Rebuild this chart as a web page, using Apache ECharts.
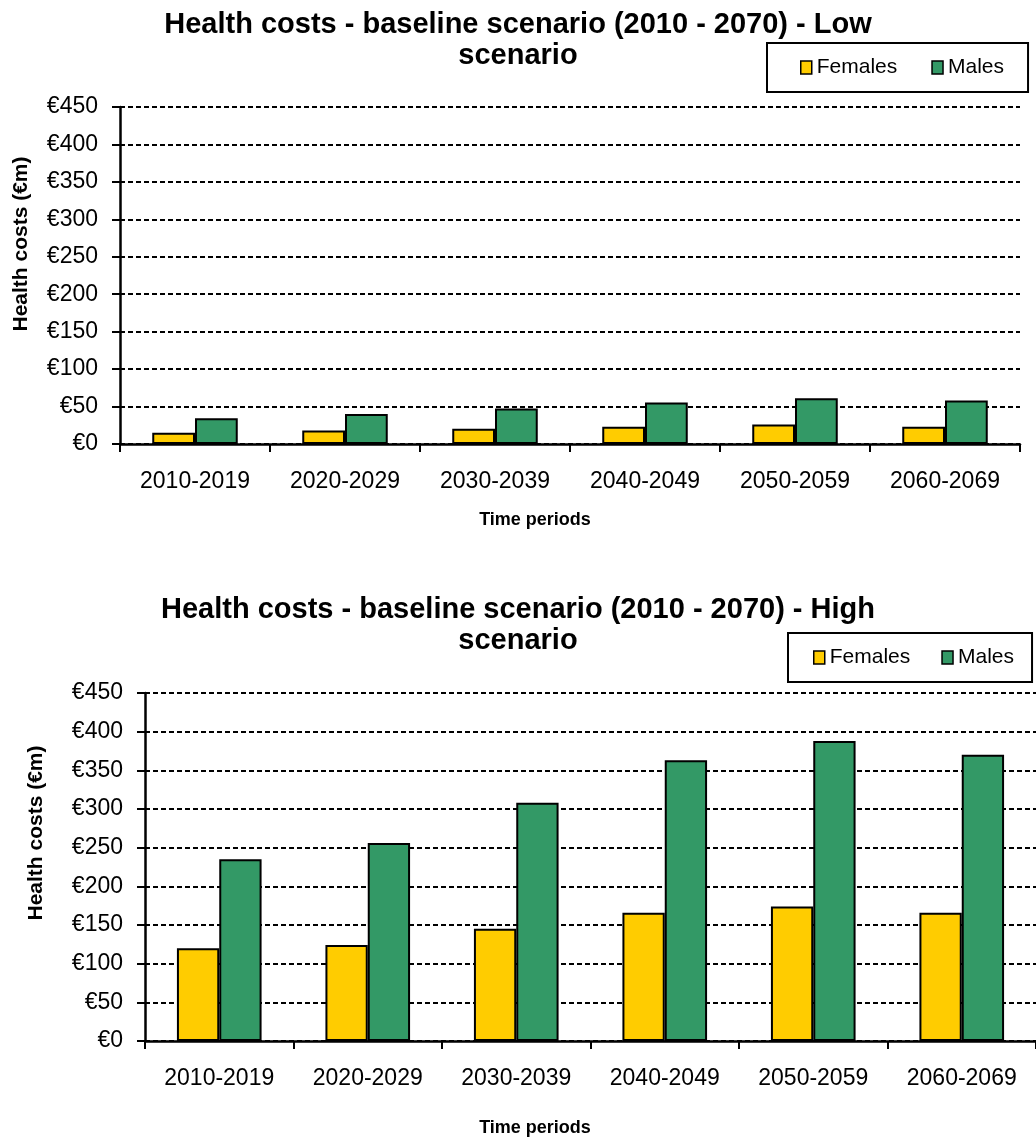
<!doctype html>
<html lang="en">
<head>
    <meta charset="UTF-8">
    <title>Health costs - baseline scenario</title>
    <script src="https://cdn.jsdelivr.net/npm/echarts@6/dist/echarts.min.js"></script>
    <style>
        body { margin: 0; background: #fff; }
        #chart { width: 1036px; height: 1140px; }
    </style>
</head>
<body>
    <div id="chart"></div>
<script>
    // data
    var periods = ['2010-2019', '2020-2029', '2030-2039', '2040-2049', '2050-2059', '2060-2069'];
    var lowFemales = [15, 18, 20.5, 23, 26, 23];
    var lowMales = [34.5, 40, 47.5, 55.5, 61, 58];
    var highFemales = [120, 124, 145, 166, 174, 166];
    var highMales = [235, 256, 308, 363, 388, 370];

    var FONT = "'Liberation Sans', Arial, sans-serif";
    var chart = echarts.init(document.getElementById('chart'));

    function xAxisFor(idx) {
        return {
            type: 'category',
            gridIndex: idx,
            data: periods,
            axisLine: { lineStyle: { color: '#000', width: 2.5 } },
            axisTick: { show: true, length: 8, lineStyle: { color: '#000', width: 2 } },
            axisLabel: { color: '#000', fontSize: 23, fontFamily: FONT, margin: 26 }
        };
    }
    function yAxisFor(idx) {
        return {
            type: 'value',
            gridIndex: idx,
            min: 0,
            max: 450,
            interval: 50,
            axisLine: { show: true, lineStyle: { color: '#000', width: 2.5 } },
            axisTick: { show: true, length: 8, lineStyle: { color: '#000', width: 2 } },
            axisLabel: {
                color: '#000', fontSize: 23, fontFamily: FONT, margin: 22,
                formatter: function (v) { return '€' + v; }
            },
            splitLine: { lineStyle: { color: '#000', width: 2, type: [5, 3] } }
        };
    }
    function barSeries(name, idx, data, color) {
        return {
            name: name,
            type: 'bar',
            xAxisIndex: idx,
            yAxisIndex: idx,
            data: data,
            barGap: '0%',
            barCategoryGap: '43%',
            itemStyle: { color: color, borderColor: '#000', borderWidth: 2 }
        };
    }
    function legendFor(left, top, gap, pad) {
        return {
            data: [
                { name: 'Females', itemStyle: { color: '#FFCC00' } },
                { name: 'Males', itemStyle: { color: '#339966' } }
            ],
            left: left,
            top: top,
            padding: pad,
            itemWidth: 11,
            itemHeight: 13,
            itemGap: gap,
            icon: 'rect',
            borderColor: '#000',
            borderWidth: 2,
            itemStyle: { borderColor: '#000', borderWidth: 1.5 },
            textStyle: { color: '#000', fontSize: 21, fontFamily: FONT },
            selectedMode: false
        };
    }

    var option = {
        backgroundColor: '#fff',
        animation: false,
        title: [{
            text: 'Health costs - baseline scenario (2010 - 2070) - Low\nscenario',
            left: 'center',
            top: 4,
            textStyle: { color: '#000', fontSize: 29, fontWeight: 'bold', fontFamily: FONT, lineHeight: 31 }
        }, {
            text: 'Health costs - baseline scenario (2010 - 2070) - High\nscenario',
            left: 'center',
            top: 589,
            textStyle: { color: '#000', fontSize: 29, fontWeight: 'bold', fontFamily: FONT, lineHeight: 31 }
        }],
        legend: [
            legendFor(767, 43, 34, [14, 24, 14, 33]),
            legendFor(788, 633, 31, [14, 18, 14, 25])
        ],
        grid: [
            { left: 120, top: 107, width: 900, height: 337 },
            { left: 145, top: 693, width: 900, height: 348 }
        ],
        xAxis: [xAxisFor(0), xAxisFor(1)],
        yAxis: [yAxisFor(0), yAxisFor(1)],
        series: [
            barSeries('Females', 0, lowFemales, '#FFCC00'),
            barSeries('Males', 0, lowMales, '#339966'),
            barSeries('Females', 1, highFemales, '#FFCC00'),
            barSeries('Males', 1, highMales, '#339966')
        ],
        // axis titles
        graphic: [
            { type: 'text', x: 21, y: 244, rotation: Math.PI / 2,
              style: { text: 'Health costs (€m)', fill: '#000', font: 'bold 21px ' + FONT, textAlign: 'center', textVerticalAlign: 'middle' } },
            { type: 'text', x: 36, y: 833, rotation: Math.PI / 2,
              style: { text: 'Health costs (€m)', fill: '#000', font: 'bold 21px ' + FONT, textAlign: 'center', textVerticalAlign: 'middle' } },
            { type: 'text', x: 535, y: 520,
              style: { text: 'Time periods', fill: '#000', font: 'bold 18px ' + FONT, textAlign: 'center', textVerticalAlign: 'middle' } },
            { type: 'text', x: 535, y: 1128,
              style: { text: 'Time periods', fill: '#000', font: 'bold 18px ' + FONT, textAlign: 'center', textVerticalAlign: 'middle' } }
        ]
    };
    chart.setOption(option);
</script>
</body>
</html>
